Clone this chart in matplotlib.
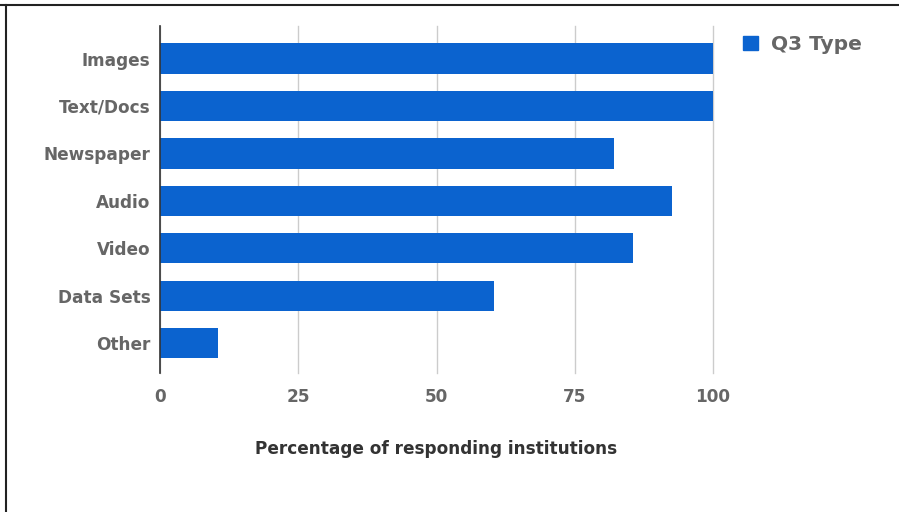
import matplotlib
matplotlib.use("Agg")
import matplotlib.pyplot as plt
from matplotlib.patches import Patch
from matplotlib.lines import Line2D

categories = ["Images", "Text/Docs", "Newspaper", "Audio", "Video", "Data Sets", "Other"]
values = [100, 100, 82.1, 92.6, 85.5, 60.4, 10.5]
xticks = [0, 25, 50, 75, 100]

plt.rcParams["font.family"] = ["DejaVu Sans"]

W, H = 899, 512
fig = plt.figure(figsize=(W / 100, H / 100), dpi=100)
ax = fig.add_axes([160 / W, 1 - 373 / H, (713 - 160) / W, (373 - 26) / H])

blue = "#0b63cf"
ypos = list(range(len(categories)))
ax.barh(ypos, values, height=0.64, color=blue, zorder=3)

ax.set_xlim(0, 100)
ax.set_ylim(6.63, -0.686)
ax.set_yticks(ypos)
ax.set_yticklabels(categories, fontsize=12.2, fontweight="bold", color="#666666")
ax.set_xticks(xticks)
ax.set_xticklabels([str(t) for t in xticks], fontsize=12.2, fontweight="bold", color="#666666")
ax.tick_params(axis="y", length=0, pad=7)
ax.tick_params(axis="x", length=0, pad=11)

for s in ["top", "right", "bottom"]:
    ax.spines[s].set_visible(False)
ax.spines["left"].set_color("#333333")
ax.spines["left"].set_linewidth(1.2)
ax.spines["left"].set_zorder(4)

ax.grid(axis="x", color="#cccccc", linewidth=1, zorder=0)
for gl in ax.get_xgridlines():
    gl.set_clip_on(False)
ax.set_axisbelow(True)

ax.set_xlabel("Percentage of responding institutions", fontsize=12.2,
              fontweight="bold", color="#333333", labelpad=24)

fig.legend(handles=[Patch(color=blue, label="Q3 Type")],
           loc="upper left", bbox_to_anchor=(725 / W, 1 - 17 / H),
           frameon=False, handlelength=0.75, handleheight=0.75, handletextpad=0.65,
           prop={"size": 14.5, "weight": "bold"}, labelcolor="#666666")

# frame lines at top and left of the image
fig.add_artist(Line2D([0, 1], [1 - 4.5 / H, 1 - 4.5 / H], color="#222222", linewidth=1.5,
                      transform=fig.transFigure))
fig.add_artist(Line2D([5.5 / W, 5.5 / W], [0, 1 - 4.5 / H], color="#222222", linewidth=1.5,
                      transform=fig.transFigure))

fig.savefig("out.png", dpi=100, facecolor="white")
